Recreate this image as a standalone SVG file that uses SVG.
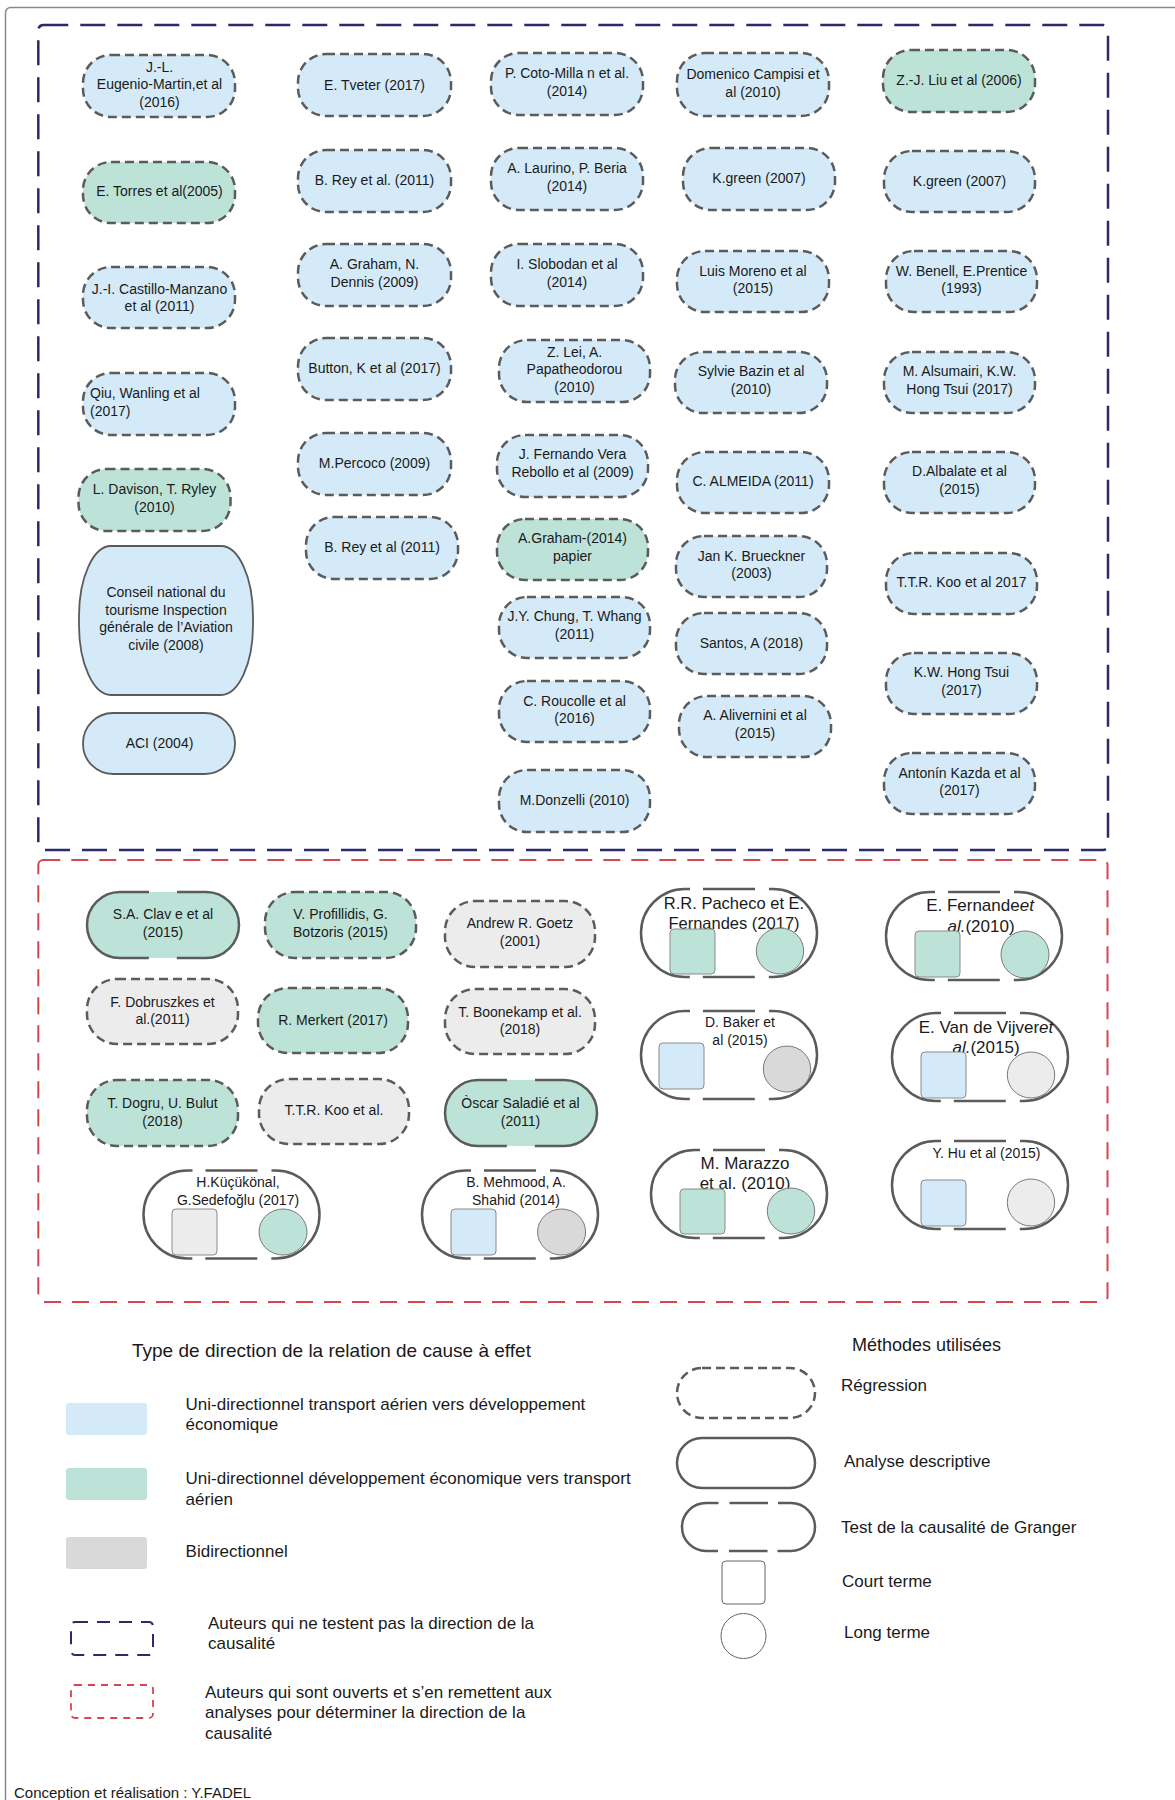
<svg xmlns="http://www.w3.org/2000/svg" width="1175" height="1800" viewBox="0 0 1175 1800">
<style>
text{font-family:"Liberation Sans",Arial,Helvetica,sans-serif;fill:#1a1a1a}
.t{font-size:14px;text-anchor:middle}
.b{fill:#d4eaf8}.g{fill:#bde3d8}.y{fill:#ececec}.d{fill:#d9d9d9}.w{fill:#ffffff}
.reg{stroke:#5b5b5b;stroke-width:2.5;stroke-dasharray:9 5}
.gr{stroke:#5b5b5b;stroke-width:2.5}
.grs{stroke-dasharray:161.7 28;stroke-dashoffset:132.7}
.grc{stroke-dasharray:148.2 13 52 14 146.2 14 52 13;stroke-dashoffset:143.2}
.grl{stroke-dasharray:100.4 11 38.5 10 101.4 10 38.5 11;stroke-dashoffset:87.9}
.sol{stroke:#5b5b5b;stroke-width:1.8}
.sq{stroke:#8a8a8a;stroke-width:1}
.ci{stroke:#7a7a7a;stroke-width:1}
.lg{font-size:17px}
</style>
<rect x="5.5" y="7.5" width="1300" height="1900" rx="5" fill="none" stroke="#8a8a8a" stroke-width="1.5"/>
<g id="frames">
<rect x="38.3" y="25" width="1069.7" height="825" rx="5" fill="none" stroke="#2b2a6b" stroke-width="2.5" stroke-dasharray="25 12"/>
<rect x="38.3" y="860" width="1069.2" height="442" rx="5" fill="none" stroke="#d64550" stroke-width="2" stroke-dasharray="17 11"/>
</g>
<g id="connectors"></g>
<g id="nodes">
<g id="n1"><rect x="83" y="55" width="152" height="62" rx="28" class="b reg"/><text class="t"><tspan x="159.5" y="71.7">J.-L.</tspan><tspan x="159.5" y="89">Eugenio-Martin,et al</tspan><tspan x="159.5" y="106.7">(2016)</tspan></text></g>
<g id="n2"><rect x="298" y="54" width="153" height="62" rx="28" class="b reg"/><text class="t" x="374.5" y="90">E. Tveter (2017)</text></g>
<g id="n3"><rect x="491" y="53" width="152" height="62" rx="28" class="b reg"/><text class="t"><tspan x="567" y="77.7">P. Coto-Milla n et al.</tspan><tspan x="567" y="95.7">(2014)</tspan></text></g>
<g id="n4"><rect x="677" y="53" width="152" height="63" rx="28" class="b reg"/><text class="t"><tspan x="753" y="79">Domenico Campisi et</tspan><tspan x="753" y="96.7">al (2010)</tspan></text></g>
<g id="n5"><rect x="883" y="50" width="152" height="62" rx="28" class="g reg"/><text class="t" x="959" y="85">Z.-J. Liu et al (2006)</text></g>
<g id="n6"><rect x="83" y="162" width="152" height="61" rx="28" class="g reg"/><text class="t" x="159.5" y="196">E. Torres et al(2005)</text></g>
<g id="n7"><rect x="298" y="150" width="153" height="62" rx="28" class="b reg"/><text class="t" x="374.5" y="185">B. Rey et al. (2011)</text></g>
<g id="n8"><rect x="491" y="148" width="152" height="62" rx="28" class="b reg"/><text class="t"><tspan x="567" y="173.3">A. Laurino, P. Beria</tspan><tspan x="567" y="190.7">(2014)</tspan></text></g>
<g id="n9"><rect x="683" y="148" width="152" height="62" rx="28" class="b reg"/><text class="t" x="759" y="183.3">K.green (2007)</text></g>
<g id="n10"><rect x="884" y="151" width="151" height="61" rx="28" class="b reg"/><text class="t" x="959.5" y="186">K.green (2007)</text></g>
<g id="n11"><rect x="83" y="267" width="152" height="61" rx="28" class="b reg"/><text class="t"><tspan x="159.5" y="293.7">J.-I. Castillo-Manzano</tspan><tspan x="159.5" y="311">et al (2011)</tspan></text></g>
<g id="n12"><rect x="298" y="244" width="153" height="62" rx="28" class="b reg"/><text class="t"><tspan x="374.5" y="269.3">A. Graham, N.</tspan><tspan x="374.5" y="286.7">Dennis (2009)</tspan></text></g>
<g id="n13"><rect x="491" y="244" width="152" height="62" rx="28" class="b reg"/><text class="t"><tspan x="567" y="269.3">I. Slobodan et al</tspan><tspan x="567" y="286.7">(2014)</tspan></text></g>
<g id="n14"><rect x="677" y="251" width="152" height="61" rx="28" class="b reg"/><text class="t"><tspan x="753" y="275.7">Luis Moreno et al</tspan><tspan x="753" y="293.3">(2015)</tspan></text></g>
<g id="n15"><rect x="886" y="251" width="151" height="61" rx="28" class="b reg"/><text class="t"><tspan x="961.5" y="275.7">W. Benell, E.Prentice</tspan><tspan x="961.5" y="293.3">(1993)</tspan></text></g>
<g id="n16"><rect x="83" y="373" width="152" height="62" rx="28" class="b reg"/><text style="font-size:14px"><tspan x="90" y="398.3">Qiu, Wanling et al</tspan><tspan x="90" y="416">(2017)</tspan></text></g>
<g id="n17"><rect x="298" y="338" width="153" height="62" rx="28" class="b reg"/><text class="t" x="374.5" y="373.3">Button, K et al (2017)</text></g>
<g id="n18"><rect x="499" y="340" width="151" height="62" rx="28" class="b reg"/><text class="t"><tspan x="574.5" y="356.7">Z. Lei, A.</tspan><tspan x="574.5" y="374">Papatheodorou</tspan><tspan x="574.5" y="391.7">(2010)</tspan></text></g>
<g id="n19"><rect x="675" y="352" width="152" height="61" rx="28" class="b reg"/><text class="t"><tspan x="751" y="376">Sylvie Bazin et al</tspan><tspan x="751" y="394">(2010)</tspan></text></g>
<g id="n20"><rect x="884" y="352" width="151" height="61" rx="28" class="b reg"/><text class="t"><tspan x="959.5" y="376">M. Alsumairi, K.W.</tspan><tspan x="959.5" y="394">Hong Tsui (2017)</tspan></text></g>
<g id="n21"><rect x="298" y="433" width="153" height="62" rx="28" class="b reg"/><text class="t" x="374.5" y="468.3">M.Percoco (2009)</text></g>
<g id="n22"><rect x="78.5" y="469" width="152" height="62" rx="28" class="g reg"/><text class="t"><tspan x="154.5" y="494.3">L. Davison, T. Ryley</tspan><tspan x="154.5" y="512">(2010)</tspan></text></g>
<g id="n23"><rect x="497" y="435" width="151" height="62" rx="28" class="b reg"/><text class="t"><tspan x="572.5" y="459.3">J. Fernando Vera</tspan><tspan x="572.5" y="477.3">Rebollo et al (2009)</tspan></text></g>
<g id="n24"><rect x="677" y="452" width="152" height="61" rx="28" class="b reg"/><text class="t" x="753" y="486">C. ALMEIDA (2011)</text></g>
<g id="n25"><rect x="884" y="452" width="151" height="61" rx="28" class="b reg"/><text class="t"><tspan x="959.5" y="476">D.Albalate et al</tspan><tspan x="959.5" y="494">(2015)</tspan></text></g>
<g id="n26"><rect x="306" y="517" width="152" height="62" rx="28" class="b reg"/><text class="t" x="382" y="552">B. Rey et al (2011)</text></g>
<g id="n27"><rect x="497" y="519" width="151" height="61" rx="28" class="g reg"/><text class="t"><tspan x="572.5" y="543.3">A.Graham-(2014)</tspan><tspan x="572.5" y="561">papier</tspan></text></g>
<g id="n28"><rect x="676" y="536" width="151" height="61" rx="28" class="b reg"/><text class="t"><tspan x="751.5" y="560.7">Jan K. Brueckner</tspan><tspan x="751.5" y="578.3">(2003)</tspan></text></g>
<g id="n29"><rect x="886" y="553" width="151" height="61" rx="28" class="b reg"/><text class="t" x="961.5" y="587.3">T.T.R. Koo et al 2017</text></g>
<g id="n30"><rect x="79" y="546" width="174" height="149" rx="32" ry="70" class="b sol"/><text class="t"><tspan x="166" y="597.3">Conseil national du</tspan><tspan x="166" y="614.7">tourisme Inspection</tspan><tspan x="166" y="632">générale de l’Aviation</tspan><tspan x="166" y="649.7">civile (2008)</tspan></text></g>
<g id="n31"><rect x="499" y="597" width="151" height="61" rx="28" class="b reg"/><text class="t"><tspan x="574.5" y="621.3">J.Y. Chung, T. Whang</tspan><tspan x="574.5" y="639">(2011)</tspan></text></g>
<g id="n32"><rect x="676" y="613" width="151" height="61" rx="28" class="b reg"/><text class="t" x="751.5" y="647.7">Santos, A (2018)</text></g>
<g id="n33"><rect x="886" y="653" width="151" height="61" rx="28" class="b reg"/><text class="t"><tspan x="961.5" y="677.3">K.W. Hong Tsui</tspan><tspan x="961.5" y="695">(2017)</tspan></text></g>
<g id="n34"><rect x="83" y="713" width="152" height="61" rx="30" class="b sol"/><text class="t" x="159.5" y="747.7">ACI (2004)</text></g>
<g id="n35"><rect x="499" y="681" width="151" height="61" rx="28" class="b reg"/><text class="t"><tspan x="574.5" y="706">C. Roucolle et al</tspan><tspan x="574.5" y="723.3">(2016)</tspan></text></g>
<g id="n36"><rect x="679" y="696" width="152" height="61" rx="28" class="b reg"/><text class="t"><tspan x="755" y="720.3">A. Alivernini et al</tspan><tspan x="755" y="738.3">(2015)</tspan></text></g>
<g id="n37"><rect x="884" y="753" width="151" height="61" rx="28" class="b reg"/><text class="t"><tspan x="959.5" y="777.7">Antonín Kazda et al</tspan><tspan x="959.5" y="795">(2017)</tspan></text></g>
<g id="n38"><rect x="499" y="770" width="151" height="62" rx="28" class="b reg"/><text class="t" x="574.5" y="805">M.Donzelli (2010)</text></g>

<g id="n39"><rect x="87" y="892" width="152" height="66" rx="33" class="g gr grs"/><text class="t"><tspan x="163" y="919.3">S.A. Clav e et al</tspan><tspan x="163" y="937">(2015)</tspan></text></g>
<g id="n40"><rect x="265" y="892" width="151" height="66" rx="30" class="g reg"/><text class="t"><tspan x="340.5" y="919.3">V. Profillidis, G.</tspan><tspan x="340.5" y="937">Botzoris (2015)</tspan></text></g>
<g id="n41"><rect x="445" y="901" width="150" height="66" rx="30" class="y reg"/><text class="t"><tspan x="520" y="928.3">Andrew R. Goetz</tspan><tspan x="520" y="946">(2001)</tspan></text></g>
<g id="n42"><rect x="87" y="979" width="151" height="65" rx="30" class="y reg"/><text class="t"><tspan x="162.5" y="1006.7">F. Dobruszkes et</tspan><tspan x="162.5" y="1024">al.(2011)</tspan></text></g>
<g id="n43"><rect x="258" y="988" width="150" height="65" rx="30" class="g reg"/><text class="t" x="333" y="1025">R. Merkert (2017)</text></g>
<g id="n44"><rect x="445" y="989" width="150" height="65" rx="30" class="y reg"/><text class="t"><tspan x="520" y="1016.7">T. Boonekamp et al.</tspan><tspan x="520" y="1034.3">(2018)</tspan></text></g>
<g id="n45"><rect x="87" y="1080" width="151" height="66" rx="30" class="g reg"/><text class="t"><tspan x="162.5" y="1108.3">T. Dogru, U. Bulut</tspan><tspan x="162.5" y="1125.7">(2018)</tspan></text></g>
<g id="n46"><rect x="259" y="1079" width="150" height="65" rx="30" class="y reg"/><text class="t" x="334" y="1115">T.T.R. Koo et al.</text></g>
<g id="n47"><rect x="445" y="1080" width="152" height="66" rx="33" class="g gr grs"/><text class="t"><tspan x="520.5" y="1108.3">Òscar Saladié et al</tspan><tspan x="520.5" y="1125.7">(2011)</tspan></text></g>

<g id="n48"><rect x="143.5" y="1170.5" width="176" height="88" rx="44" class="w gr grc"/><text class="t"><tspan x="238" y="1187">H.Küçükönal,</tspan><tspan x="238" y="1205">G.Sedefoğlu (2017)</tspan></text><rect x="172" y="1209" width="45" height="46" rx="4" class="y sq"/><ellipse cx="283" cy="1232" rx="24" ry="23" class="g ci"/></g>
<g id="n49"><rect x="422" y="1170.5" width="176" height="88" rx="44" class="w gr grc"/><text class="t"><tspan x="516" y="1187">B. Mehmood, A.</tspan><tspan x="516" y="1205">Shahid (2014)</tspan></text><rect x="451" y="1209" width="45" height="46" rx="4" class="b sq"/><ellipse cx="561.6" cy="1232" rx="24" ry="23" class="d ci"/></g>
<g id="n50"><rect x="641" y="889" width="176" height="88" rx="44" class="w gr grc"/><text class="t" style="font-size:16.5px"><tspan x="734" y="909">R.R. Pacheco et E.</tspan><tspan x="734" y="929">Fernandes (2017)</tspan></text><rect x="670" y="929" width="45" height="45" rx="4" class="g sq"/><ellipse cx="780" cy="951" rx="23.7" ry="23" class="g ci"/></g>
<g id="n51"><rect x="886" y="892" width="176" height="88" rx="44" class="w gr grc"/><text class="t" style="font-size:17px"><tspan x="980" y="911">E. Fernande<tspan font-style="italic">et</tspan></tspan><tspan x="981" y="932"><tspan font-style="italic">al.</tspan>(2010)</tspan></text><rect x="915" y="931" width="45" height="46" rx="4" class="g sq"/><ellipse cx="1025" cy="954.5" rx="24" ry="23.5" class="g ci"/></g>
<g id="n52"><rect x="641" y="1011" width="176" height="88" rx="44" class="w gr grc"/><text class="t"><tspan x="740" y="1027">D. Baker et</tspan><tspan x="740" y="1045">al (2015)</tspan></text><rect x="659" y="1043" width="45" height="46" rx="4" class="b sq"/><ellipse cx="787" cy="1069" rx="23.7" ry="23" class="d ci"/></g>
<g id="n53"><rect x="892" y="1013" width="176" height="88" rx="44" class="w gr grc"/><text class="t" style="font-size:17px"><tspan x="986" y="1033">E. Van de Vijver<tspan font-style="italic">et</tspan></tspan><tspan x="986" y="1053"><tspan font-style="italic">al.</tspan>(2015)</tspan></text><rect x="921" y="1052" width="45" height="46" rx="4" class="b sq"/><ellipse cx="1031" cy="1075" rx="23.7" ry="23" class="y ci"/></g>
<g id="n54"><rect x="651" y="1150" width="176" height="88" rx="44" class="w gr grc"/><text class="t" style="font-size:17px"><tspan x="745" y="1169">M. Marazzo</tspan><tspan x="745" y="1189">et al. (2010)</tspan></text><rect x="680" y="1189" width="45" height="45" rx="4" class="g sq"/><ellipse cx="791" cy="1211" rx="23.7" ry="23" class="g ci"/></g>
<g id="n55"><rect x="892" y="1141" width="176" height="88" rx="44" class="w gr grc"/><text class="t" x="986.5" y="1158">Y. Hu et al (2015)</text><rect x="921" y="1180" width="45" height="46" rx="4" class="b sq"/><ellipse cx="1031" cy="1202.5" rx="23.7" ry="23.5" class="y ci"/></g>
</g>

<g id="legend">
<text x="132" y="1357" style="font-size:19px">Type de direction de la relation de cause à effet</text>
<rect x="66" y="1403" width="81" height="32" rx="3" class="b"/>
<rect x="66" y="1468" width="81" height="32" rx="3" class="g"/>
<rect x="66" y="1537" width="81" height="32" rx="3" class="d"/>
<text class="lg"><tspan x="185.6" y="1410">Uni-directionnel transport aérien vers développement</tspan><tspan x="185.6" y="1430">économique</tspan></text>
<text class="lg"><tspan x="185.6" y="1484">Uni-directionnel développement économique vers transport</tspan><tspan x="185.6" y="1505">aérien</tspan></text>
<text class="lg" x="185.6" y="1557">Bidirectionnel</text>
<rect x="71" y="1622" width="82" height="33" rx="4" fill="none" stroke="#2b2a6b" stroke-width="2" stroke-dasharray="13 9"/>
<text class="lg"><tspan x="208" y="1629">Auteurs qui ne testent pas la direction de la</tspan><tspan x="208" y="1649">causalité</tspan></text>
<rect x="71" y="1685" width="82" height="33" rx="4" fill="none" stroke="#d64550" stroke-width="1.8" stroke-dasharray="7 6"/>
<text class="lg"><tspan x="205" y="1698">Auteurs qui sont ouverts et s’en remettent aux</tspan><tspan x="205" y="1718">analyses pour déterminer la direction de la</tspan><tspan x="205" y="1739">causalité</tspan></text>
<text x="14" y="1798" style="font-size:15px">Conception et réalisation : Y.FADEL</text>

<text x="852" y="1351" style="font-size:18px">Méthodes utilisées</text>
<rect x="677" y="1368" width="138" height="50" rx="25" class="w reg"/>
<text class="lg" x="841" y="1391">Régression</text>
<rect x="677" y="1438" width="138" height="50" rx="25" class="w" stroke="#5b5b5b" stroke-width="2.5"/>
<text class="lg" x="844" y="1467">Analyse descriptive</text>
<rect x="682" y="1503" width="133" height="48" rx="24" class="w gr grl"/>
<text class="lg" x="841" y="1533">Test de la causalité de Granger</text>
<rect x="722" y="1561" width="43" height="43" rx="4" fill="#ffffff" stroke="#666666" stroke-width="1"/>
<text class="lg" x="842" y="1587">Court terme</text>
<circle cx="743.5" cy="1636" r="22.5" fill="#ffffff" stroke="#666666" stroke-width="1"/>
<text class="lg" x="844" y="1638">Long terme</text>
</g>
</svg>
